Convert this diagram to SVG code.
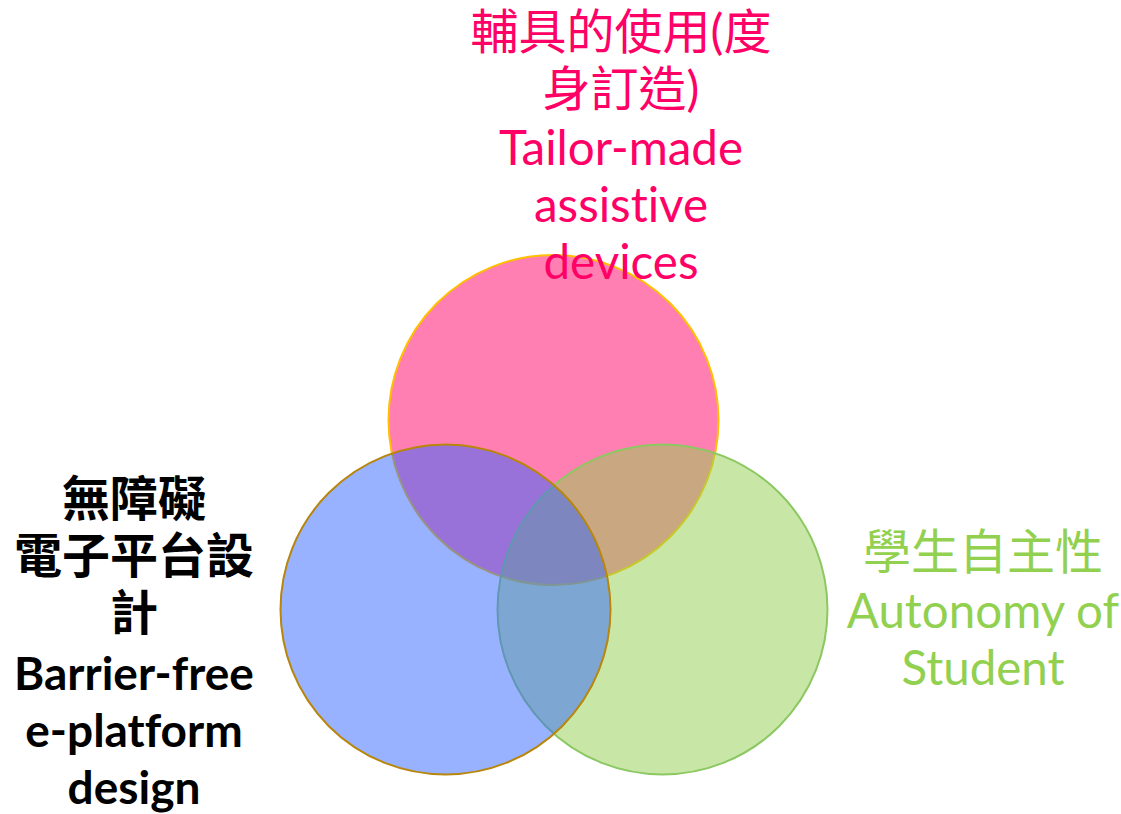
<svg xmlns="http://www.w3.org/2000/svg" width="1121" height="814" viewBox="0 0 1121 814">
<style>
.c{fill-opacity:0.5;stroke-width:2}
.t{font-family:Lato,"Noto Sans CJK TC",sans-serif;font-size:47.5px;text-anchor:middle;font-variant-ligatures:none}
.cjk{font-size:48px}
.b{font-size:46px}
</style>
<rect width="1121" height="814" fill="#ffffff"/>
<g id="circles">
<g id="node-assistive"><circle class="c" cx="553.5" cy="420" r="165" fill="#FF0066" stroke="#FFC000"/></g>
<g id="node-autonomy"><circle class="c" cx="662.5" cy="609.5" r="165" fill="#92D050" stroke="#8CC862"/></g>
<g id="node-barrier"><circle class="c" cx="445.5" cy="609.5" r="165" fill="#3366FF" stroke="#B8860B"/></g>
</g>
<g id="connectors"></g>
<g id="label-assistive" fill="#FF0066">
<text x="621" y="49" class="t cjk">輔具的使用(度</text>
<text x="621" y="106" class="t cjk">身訂造)</text>
<text x="621" y="165" class="t">Tailor-made</text>
<text x="621" y="222" class="t">assistive</text>
<text x="621" y="279" class="t">devices</text>
</g>
<g id="label-barrier" fill="#000000" font-weight="bold">
<text x="134" y="516" class="t cjk">無障礙</text>
<text x="134" y="573" class="t cjk">電子平台設</text>
<text x="134" y="630" class="t cjk">計</text>
<text x="134" y="690" class="t b">Barrier-free</text>
<text x="134" y="747" class="t b">e-platform</text>
<text x="134" y="804" class="t b">design</text>
</g>
<g id="label-autonomy" fill="#92D050">
<text x="983" y="569" class="t cjk">學生自主性</text>
<text x="983" y="628" class="t">Autonomy of</text>
<text x="983" y="685" class="t">Student</text>
</g>
</svg>
